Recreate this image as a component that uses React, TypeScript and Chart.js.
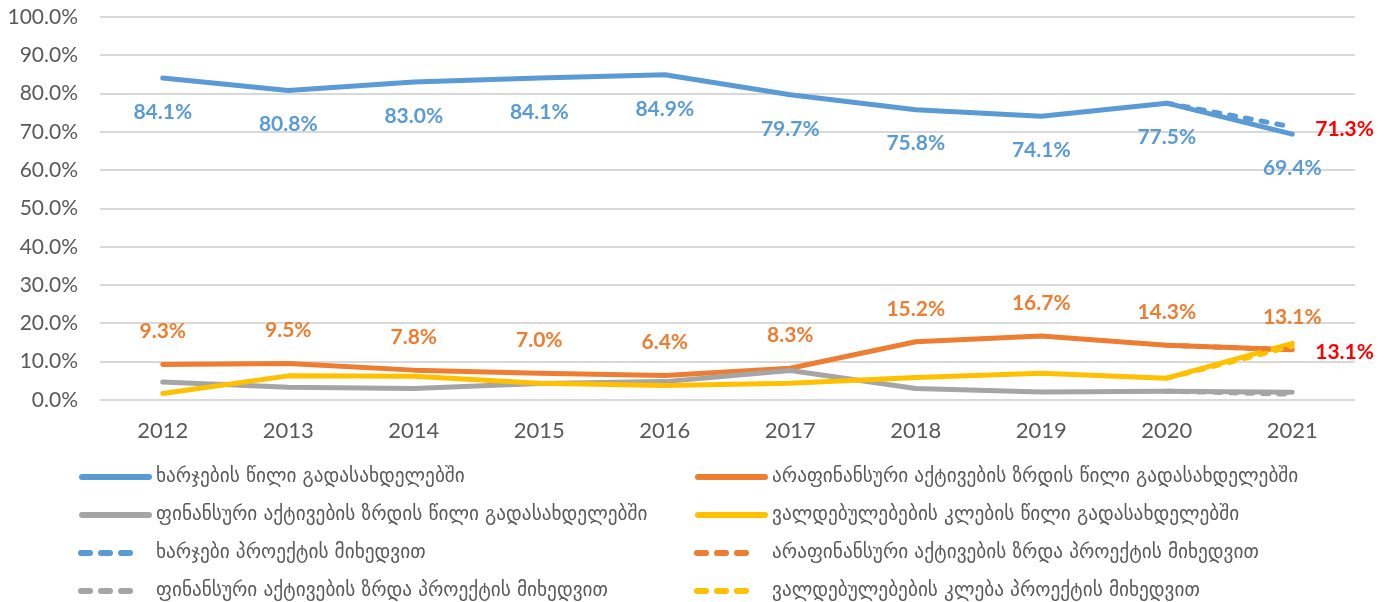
import React, { useEffect, useRef } from "react";
import { Chart, registerables } from "chart.js";

Chart.register(...registerables);

const years = ["2012", "2013", "2014", "2015", "2016", "2017", "2018", "2019", "2020", "2021"];
const expenseShare = [84.1, 80.8, 83.0, 84.1, 84.9, 79.7, 75.8, 74.1, 77.5, 69.4];
const nonFinAssetShare = [9.3, 9.5, 7.8, 7.0, 6.4, 8.3, 15.2, 16.7, 14.3, 13.1];
const finAssetShare = [4.7, 3.3, 3.0, 4.3, 4.8, 7.7, 3.0, 2.1, 2.3, 2.0];
const liabilityShare = [1.7, 6.3, 6.2, 4.4, 3.8, 4.4, 5.9, 7.0, 5.7, 14.8];
const expenseProject = [null, null, null, null, null, null, null, null, 77.5, 71.3];
const nonFinProject = [null, null, null, null, null, null, null, null, 14.3, 13.1];
const finProject = [null, null, null, null, null, null, null, null, 2.3, 1.5];
const liabilityProject = [null, null, null, null, null, null, null, null, 5.7, 14.0];

const seriesNames = [
  "ხარჯების წილი გადასახდელებში",
  "არაფინანსური აქტივების ზრდის წილი გადასახდელებში",
  "ფინანსური აქტივების ზრდის წილი გადასახდელებში",
  "ვალდებულებების კლების წილი გადასახდელებში",
  "ხარჯები პროექტის მიხედვით",
  "არაფინანსური აქტივების ზრდა პროექტის მიხედვით",
  "ფინანსური აქტივების ზრდა პროექტის მიხედვით",
  "ვალდებულებების კლება პროექტის მიხედვით",
];

const BLUE = "#5B9BD5";
const ORANGE = "#ED7D31";
const GRAY = "#A5A5A5";
const YELLOW = "#FFC000";
const RED = "#FF0000";

const fmt = (v: number) => v.toFixed(1) + "%";

const labelPlugin = {
  id: "valueLabels",
  afterDatasetsDraw(chart: any) {
    const ctx = chart.ctx;
    ctx.save();
    ctx.font = "bold 21px Lato";
    ctx.textBaseline = "middle";
    const draw = (dsIndex: number, color: string, dx: number, dy: number, align: string, onlyLast: boolean) => {
      const meta = chart.getDatasetMeta(dsIndex);
      const data = chart.data.datasets[dsIndex].data;
      meta.data.forEach((pt: any, i: number) => {
        const v = data[i];
        if (v == null) return;
        if (onlyLast && i !== data.length - 1) return;
        ctx.fillStyle = color;
        ctx.textAlign = align;
        ctx.fillText(fmt(v), pt.x + dx, pt.y + dy);
      });
    };
    draw(0, BLUE, 0, 34, "center", false);
    draw(1, ORANGE, 0, -33, "center", false);
    draw(4, RED, 23, 2, "left", true);
    draw(5, RED, 23, 2, "left", true);
    ctx.restore();
  },
};

const legendPlugin = {
  id: "gridLegend",
  afterDraw(chart: any) {
    const ctx = chart.ctx;
    const colX = [79, 695];
    const textX = [156, 772];
    const rowY = [477, 515, 553, 591];
    ctx.save();
    ctx.font = "19.3px 'DejaVu Sans'";
    ctx.textBaseline = "middle";
    ctx.textAlign = "left";
    chart.data.datasets.forEach((ds: any, i: number) => {
      const col = i % 2;
      const row = Math.floor(i / 2);
      const x0 = colX[col];
      const y = rowY[row];
      ctx.strokeStyle = ds.borderColor;
      ctx.lineWidth = 6;
      ctx.lineCap = "round";
      if (ds.borderDash && ds.borderDash.length) {
        for (let k = 0; k < 3; k++) {
          ctx.beginPath();
          ctx.moveTo(x0 + 2 + k * 20, y);
          ctx.lineTo(x0 + 11 + k * 20, y);
          ctx.stroke();
        }
      } else {
        ctx.beginPath();
        ctx.moveTo(x0 + 3, y);
        ctx.lineTo(x0 + 70, y);
        ctx.stroke();
      }
      ctx.fillStyle = "#595959";
      ctx.fillText(ds.label, textX[col], y);
    });
    ctx.restore();
  },
};

export default function App() {
  const canvasRef = useRef<HTMLCanvasElement | null>(null);

  useEffect(() => {
    document.body.style.margin = "0";
    document.body.style.overflow = "hidden";
    const canvas = canvasRef.current;
    if (!canvas) return;

    const mk = (label: string, data: (number | null)[], color: string, dashed: boolean, order: number) => ({
      label,
      data,
      borderColor: color,
      backgroundColor: color,
      borderWidth: 5,
      borderDash: dashed ? [6, 10] : [],
      borderCapStyle: "round",
      borderJoinStyle: "round",
      pointRadius: 0,
      pointHoverRadius: 0,
      tension: 0,
      fill: false,
      order,
    });

    const chart = new Chart(canvas, {
      type: "line",
      data: {
        labels: years,
        datasets: [
          mk(seriesNames[0], expenseShare, BLUE, false, 8),
          mk(seriesNames[1], nonFinAssetShare, ORANGE, false, 7),
          mk(seriesNames[2], finAssetShare, GRAY, false, 6),
          mk(seriesNames[3], liabilityShare, YELLOW, false, 5),
          mk(seriesNames[4], expenseProject, BLUE, true, 4),
          mk(seriesNames[5], nonFinProject, ORANGE, true, 3),
          mk(seriesNames[6], finProject, GRAY, true, 2),
          mk(seriesNames[7], liabilityProject, YELLOW, true, 1),
        ] as any,
      },
      options: {
        animation: false,
        responsive: false,
        maintainAspectRatio: false,
        devicePixelRatio: 1,
        layout: { padding: { top: 17, right: 37, left: 0, bottom: 0 } },
        plugins: {
          legend: { display: false },
          tooltip: { enabled: false },
        },
        scales: {
          x: {
            offset: true,
            grid: { display: false, drawTicks: false, offset: true },
            border: { display: false },
            ticks: {
              color: "#595959",
              font: { family: "Lato", size: 22 },
              padding: 18,
              maxRotation: 0,
            },
            afterFit: (scale: any) => {
              scale.height = 202;
              scale.paddingLeft = 0;
              scale.paddingRight = 0;
            },
          },
          y: {
            min: 0,
            max: 100,
            grid: { color: "#D9D9D9", lineWidth: 2, drawTicks: false },
            border: { display: false },
            ticks: {
              stepSize: 10,
              color: "#595959",
              font: { family: "Lato", size: 21 },
              padding: 22,
              callback: (v: any) => Number(v).toFixed(1) + "%",
            },
            afterFit: (scale: any) => {
              scale.width = 100;
              scale.paddingTop = 0;
              scale.paddingBottom = 0;
            },
          },
        },
      } as any,
      plugins: [labelPlugin, legendPlugin],
    });

    return () => {
      chart.destroy();
    };
  }, []);

  return (
    <div style={{ width: 1392, height: 602 }}>
      <canvas ref={canvasRef} width={1392} height={602} style={{ display: "block" }} />
    </div>
  );
}
